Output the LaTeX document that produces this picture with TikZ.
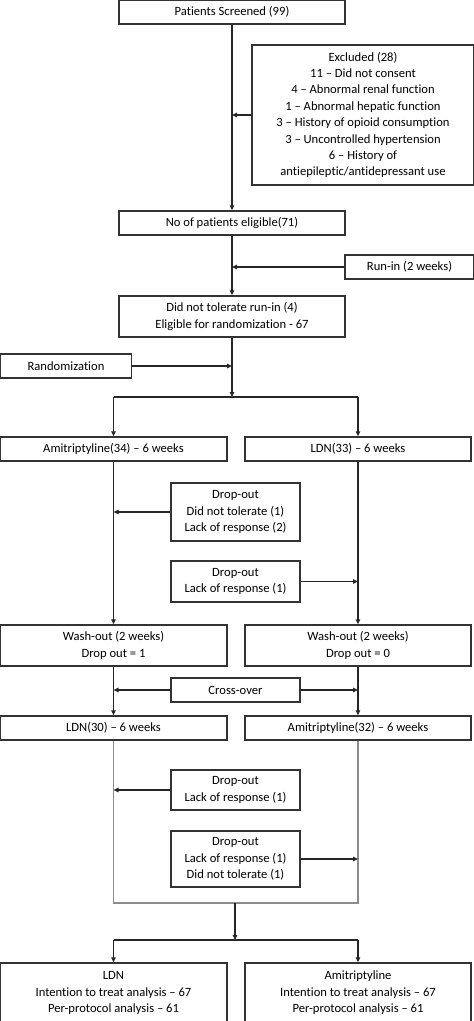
\documentclass[tikz,border=0pt]{standalone}
\usepackage{fontspec}
\setmainfont{Carlito}[Ligatures=NoCommon]
\usetikzlibrary{arrows.meta}
\begin{document}
\begin{tikzpicture}[x=1pt,y=-1pt,
  box/.style={draw=black!80, line width=1.4pt, fill=white, align=center, inner sep=0pt,
    font=\fontsize{12.6}{16.4}\selectfont, text=black},
  conn/.style={draw=black!85, line width=1.3pt},
  arr/.style={conn, -{Triangle[length=5pt,width=4.5pt]}},
  grayline/.style={draw=black!45, line width=1.3pt}]
\useasboundingbox (0,0) rectangle (474,1021);
\node[box, minimum width=226pt, minimum height=24pt] (ps) at (232,12) {Patients Screened (99)};
\node[box, minimum width=222pt, minimum height=140pt] (ex) at (363,115) {Excluded (28)\\11 -- Did not consent\\4 -- Abnormal renal function\\1 -- Abnormal hepatic function\\3 -- History of opioid consumption\\3 -- Uncontrolled hypertension\\6 -- History of\\antiepileptic/antidepressant use};
\node[box, minimum width=226pt, minimum height=24pt] (elig) at (232,223) {No of patients eligible(71)};
\node[box, minimum width=129pt, minimum height=24pt] (run) at (409.5,267) {Run-in (2 weeks)};
\node[box, minimum width=226pt, minimum height=41pt] (tol) at (232,316.5) {Did not tolerate run-in (4)\\Eligible for randomization - 67};
\node[box, minimum width=131pt, minimum height=24pt] (rand) at (66,366) {Randomization};
\node[box, minimum width=227pt, minimum height=24pt] (ami1) at (113.5,449) {Amitriptyline(34) -- 6 weeks};
\node[box, minimum width=226pt, minimum height=24pt] (ldn1) at (358,449) {LDN(33) -- 6 weeks};
\node[box, minimum width=129pt, minimum height=58pt] (d1) at (235.5,512) {Drop-out\\Did not tolerate (1)\\Lack of response (2)};
\node[box, minimum width=129pt, minimum height=41pt] (d2) at (235.5,581.5) {Drop-out\\Lack of response (1)};
\node[box, minimum width=227pt, minimum height=41pt] (wash1) at (113.5,645.5) {Wash-out (2 weeks)\\Drop out = 1};
\node[box, minimum width=226pt, minimum height=41pt] (wash2) at (358,645.5) {Wash-out (2 weeks)\\Drop out = 0};
\node[box, minimum width=129pt, minimum height=24pt] (cross) at (235.5,690) {Cross-over};
\node[box, minimum width=227pt, minimum height=24pt] (ldn2) at (113.5,728) {LDN(30) -- 6 weeks};
\node[box, minimum width=226pt, minimum height=24pt] (ami2) at (358,728) {Amitriptyline(32) -- 6 weeks};
\node[box, minimum width=129pt, minimum height=40pt] (d3) at (235.5,790) {Drop-out\\Lack of response (1)};
\node[box, minimum width=129pt, minimum height=56pt] (d4) at (235.5,859) {Drop-out\\Lack of response (1)\\Did not tolerate (1)};
\node[box, minimum width=227pt, minimum height=60pt] (fin1) at (113.5,993) {LDN\\Intention to treat analysis -- 67\\Per-protocol analysis -- 61};
\node[box, minimum width=226pt, minimum height=60pt] (fin2) at (358,993) {Amitriptyline\\Intention to treat analysis -- 67\\Per-protocol analysis -- 61};

\coordinate (br1) at (232,397);
\coordinate (encl) at (235,903);
\coordinate (br2) at (235,940);

\draw[arr] (ps.south) -- (elig.north);
\draw[arr] (ex.west) -- (ex.west -| ps.south);
\draw[arr] (elig.south) -- (tol.north);
\draw[arr] (run.west) -- (run.west -| elig.south);
\draw[arr] (tol.south) -- (br1);
\draw[arr] (rand.east) -- (rand.east -| tol.south);
\draw[conn] (br1 -| ami1.north) -- (br1 -| ldn1.north);
\draw[arr] (br1 -| ami1.north) -- (ami1.north);
\draw[arr] (br1 -| ldn1.north) -- (ldn1.north);
\draw[arr] (ami1.south) -- (wash1.north);
\draw[arr] (ldn1.south) -- (wash2.north);
\draw[arr] (d1.west) -- (d1.west -| ami1.south);
\draw[arr] (d2.east) -- (d2.east -| ldn1.south);
\draw[arr] (wash1.south) -- (ldn2.north);
\draw[arr] (wash2.south) -- (ami2.north);
\draw[arr] (cross.west) -- (cross.west -| wash1.south);
\draw[arr] (cross.east) -- (cross.east -| wash2.south);
\draw[grayline] (ldn2.south) -- (encl -| ldn2.south) -- (encl -| ami2.south) -- (ami2.south);
\draw[arr] (d3.west) -- (d3.west -| ldn2.south);
\draw[arr] (d4.east) -- (d4.east -| ami2.south);
\draw[arr] (encl) -- (br2);
\draw[conn] (br2 -| fin1.north) -- (br2 -| fin2.north);
\draw[arr] (br2 -| fin1.north) -- (fin1.north);
\draw[arr] (br2 -| fin2.north) -- (fin2.north);
\end{tikzpicture}
\end{document}
